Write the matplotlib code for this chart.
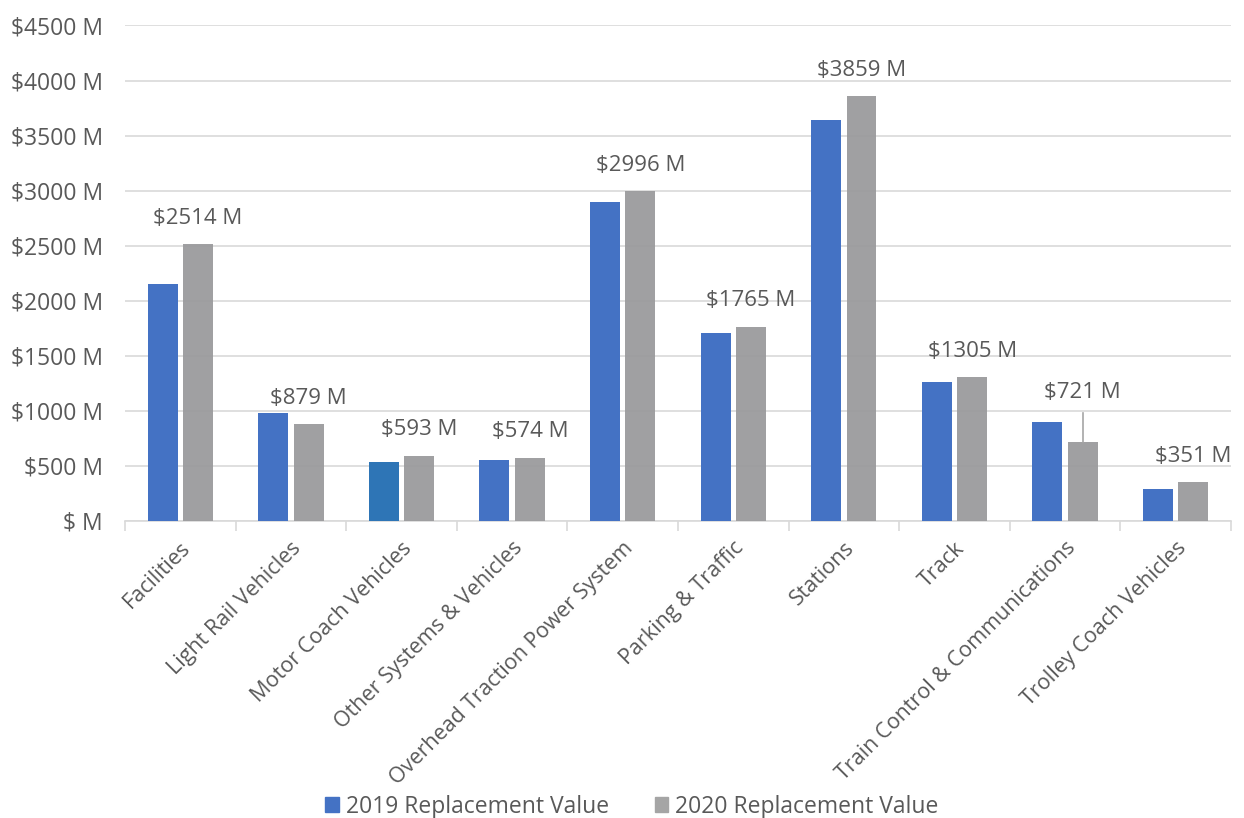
import numpy as np
import matplotlib
matplotlib.use("Agg")
import matplotlib.pyplot as plt
from matplotlib.patches import Patch

plt.rcParams['font.family'] = ['Open Sans', 'DejaVu Sans']

categories = ['Facilities', 'Light Rail Vehicles', 'Motor Coach Vehicles',
              'Other Systems & Vehicles', 'Overhead Traction Power System',
              'Parking & Traffic', 'Stations', 'Track',
              'Train Control & Communications', 'Trolley Coach Vehicles']
values_2019 = [2155, 978, 533, 551, 2895, 1706, 3641, 1260, 899, 286]
values_2020 = [2514, 879, 593, 574, 2996, 1765, 3859, 1305, 721, 351]
yticks = [0, 500, 1000, 1500, 2000, 2500, 3000, 3500, 4000, 4500]

txt = '#595959'
blue = '#4472c4'
gray = '#a5a5a5'

fig = plt.figure(figsize=(12.44, 8.18), dpi=100)
ax = fig.add_axes([0.1005, 0.3631, 0.889, 0.6058])

x = np.arange(len(categories))
w = 0.27
off = 0.16
blue_colors = [blue] * len(categories)
blue_colors[2] = '#2e75b6'
ax.bar(x - off, values_2019, w, color=blue_colors, zorder=3)
ax.bar(x + off, values_2020, w, color='#9b9b9d', alpha=0.95, zorder=3)

# data labels above the 2020 bars
for i, v in enumerate(values_2020):
    if categories[i] == 'Train Control & Communications':
        ax.plot([x[i] + off, x[i] + off], [v, v + 260], color=gray, lw=1.2, zorder=4)
        ax.text(x[i] + off, v + 450, f'${v} M', ha='center', va='center',
                fontsize=16, color=txt, zorder=5)
    else:
        ax.text(x[i] + off, v + 235, f'${v} M', ha='center', va='center',
                fontsize=16, color=txt, zorder=5)

ax.set_xlim(-0.5, len(categories) - 0.5)
ax.set_ylim(0, 4500)
ax.set_yticks(yticks)
ax.set_yticklabels([f'${t} M' if t else '$ M' for t in yticks])
ax.yaxis.grid(True, color='#d9d9d9', lw=1.2, zorder=0)
ax.set_axisbelow(True)

ax.set_xticks(x)
ax.set_xticklabels(categories, rotation=45, ha='right', va='top',
                   rotation_mode='anchor')
ax.set_xticks(np.arange(-0.5, len(categories)), minor=True)
ax.tick_params(axis='x', which='major', length=0, pad=12, labelsize=15.5,
               labelcolor=txt)
ax.tick_params(axis='x', which='minor', length=7, color='#d9d9d9', width=1.2)
ax.tick_params(axis='y', length=0, pad=16, labelsize=16.5, labelcolor=txt)

for s in ['top', 'right', 'left']:
    ax.spines[s].set_visible(False)
ax.spines['bottom'].set_color('#d9d9d9')
ax.spines['bottom'].set_linewidth(1.2)

handles = [Patch(color=blue, label='2019 Replacement Value'),
           Patch(color=gray, label='2020 Replacement Value')]
fig.legend(handles=handles, loc='center', bbox_to_anchor=(0.508, 0.014),
           ncol=2, frameon=False, fontsize=16.5, labelcolor=txt,
           handlelength=0.6, handleheight=0.6, handletextpad=0.3,
           columnspacing=2.0)

fig.savefig('out.png', dpi=100)
